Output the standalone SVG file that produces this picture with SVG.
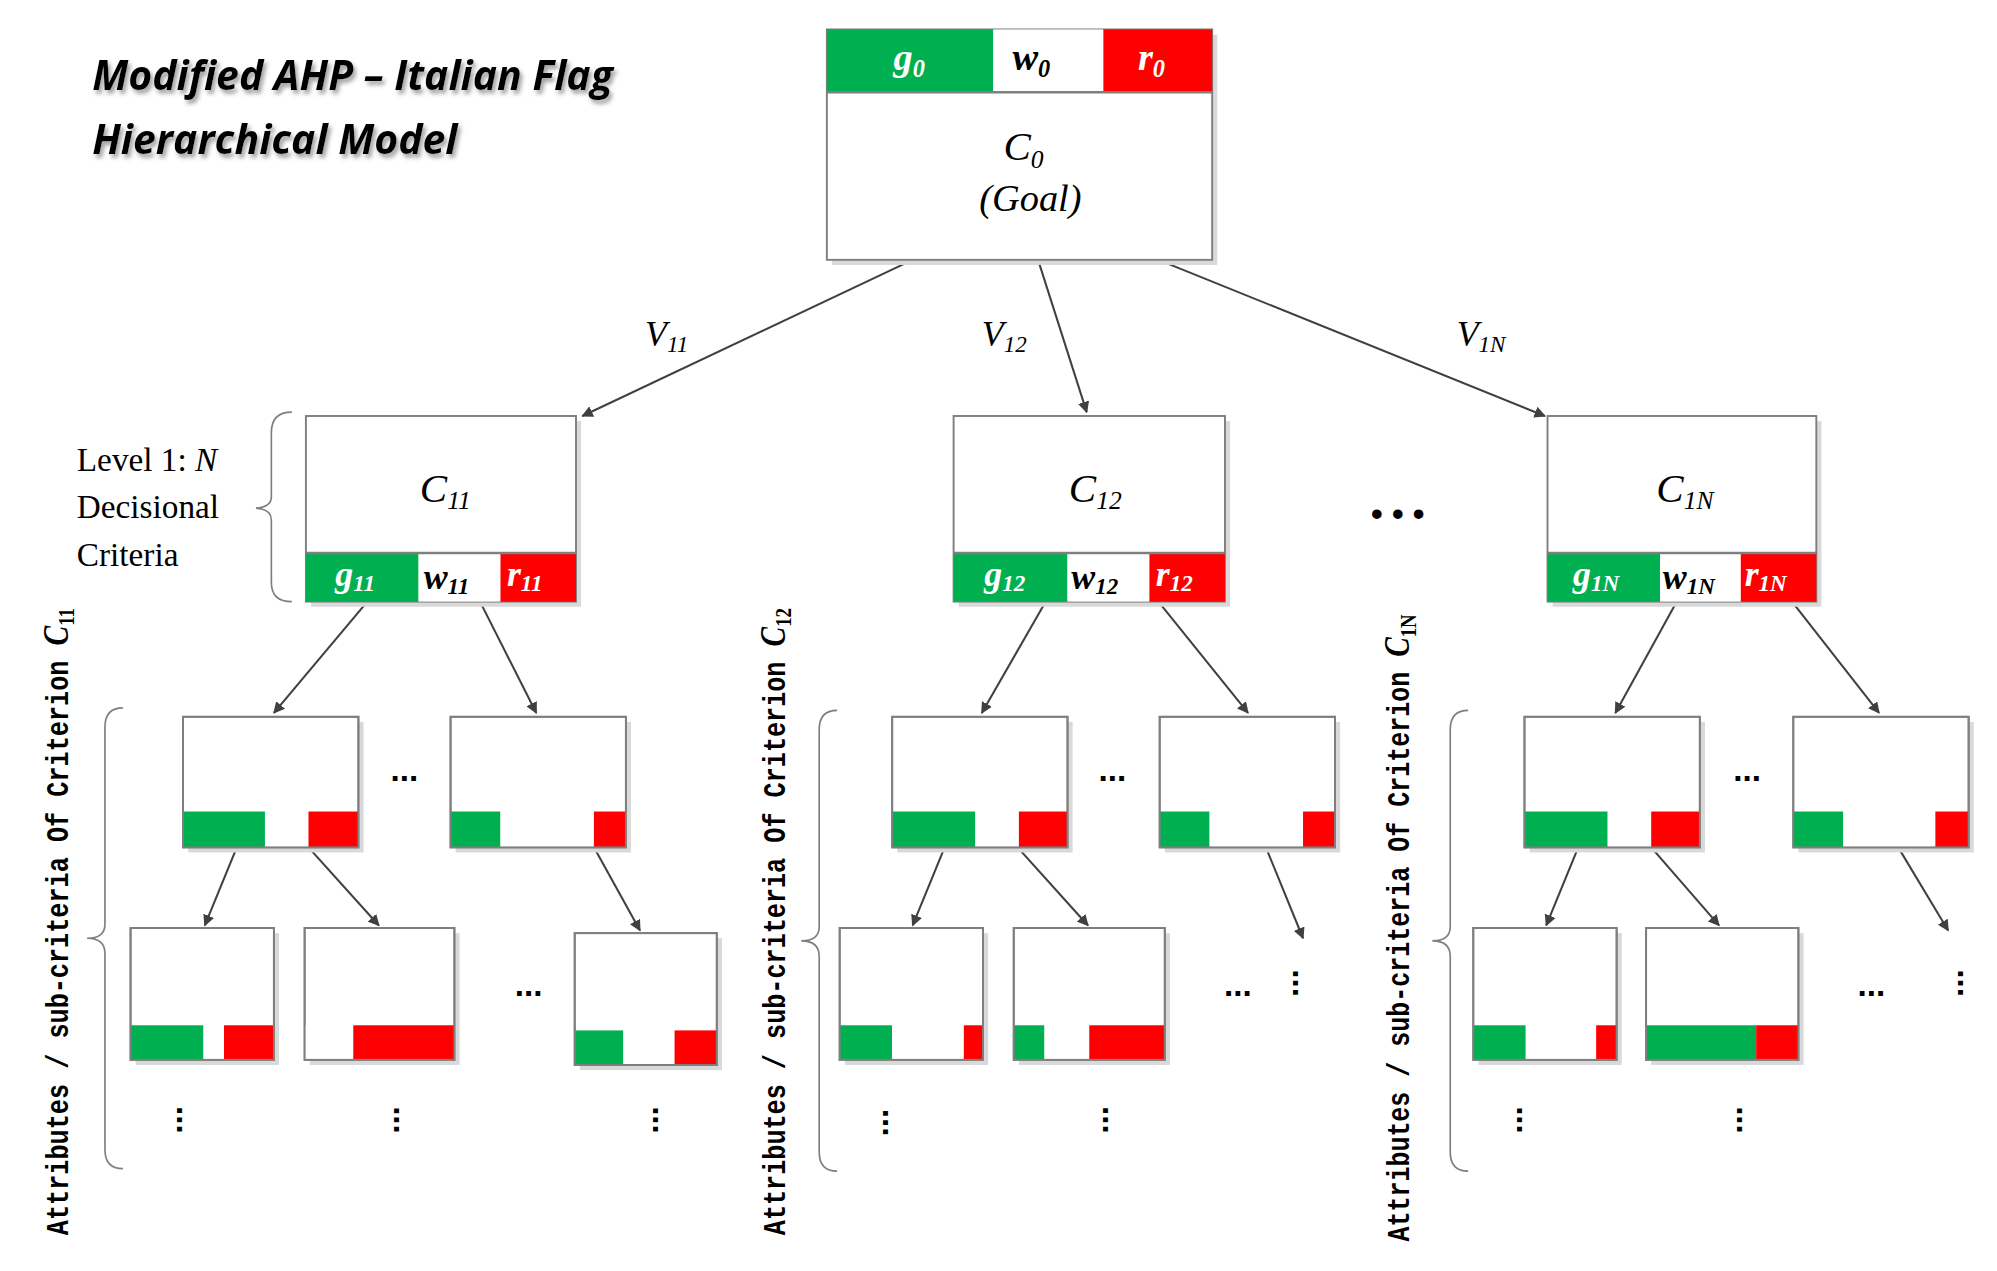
<svg xmlns="http://www.w3.org/2000/svg" width="1997" height="1271" viewBox="0 0 1997 1271">
<style>
.box{fill:#fff;stroke:#7f7f7f;stroke-width:1.5}
.ol{fill:none;stroke:#7f7f7f;stroke-width:1.5}
.sh{fill:#d9d9d9}
.g{fill:#00b050}.r{fill:#ff0000}.w{fill:#fff}
.ln{stroke:#404040;stroke-width:1.6;fill:none}
.m{font-family:"Liberation Serif",serif;font-style:italic;fill:#000}
.mw{font-family:"Liberation Serif",serif;font-style:italic;font-weight:bold;fill:#fff}
.mb{font-family:"Liberation Serif",serif;font-style:italic;font-weight:bold;fill:#000}
.t{font-family:"Liberation Serif",serif;font-size:26px;fill:#000}
.rot{font-family:"Liberation Mono",monospace;font-size:24px;font-weight:bold;fill:#000}
.dots{font-family:"Liberation Sans",sans-serif;font-size:26px;font-weight:bold;fill:#000}
.br{stroke:#7f7f7f;stroke-width:1.3;fill:none}
</style>
<defs>
<marker id="a" viewBox="0 0 10 10" refX="9" refY="5" markerWidth="9" markerHeight="9" orient="auto-start-reverse" markerUnits="userSpaceOnUse"><path d="M0,0L10,5L0,10z" fill="#404040"/></marker>
<filter id="ds" x="-5%" y="-20%" width="110%" height="140%"><feDropShadow dx="2" dy="3" stdDeviation="1.5" flood-color="#888" flood-opacity="0.8"/></filter>
</defs>
<rect width="1997" height="1271" fill="#fff"/>
<g transform="scale(1.28)">
<g id="title" font-family="'Open Sans','Liberation Sans',sans-serif" font-weight="bold" font-style="italic" font-size="32" filter="url(#ds)">
<text x="72" y="70">Modified AHP – Italian Flag</text>
<text x="72" y="120">Hierarchical Model</text>
</g>

<g id="connectors">
<line class="ln" x1="713" y1="203" x2="455" y2="325" marker-end="url(#a)"/>
<line class="ln" x1="811" y1="203" x2="849" y2="322" marker-end="url(#a)"/>
<line class="ln" x1="905" y1="203" x2="1207" y2="325" marker-end="url(#a)"/>
<line class="ln" x1="287" y1="470" x2="214" y2="557" marker-end="url(#a)"/>
<line class="ln" x1="375" y1="470" x2="419" y2="557" marker-end="url(#a)"/>
<line class="ln" x1="185" y1="662" x2="160" y2="723" marker-end="url(#a)"/>
<line class="ln" x1="241" y1="662" x2="296" y2="723" marker-end="url(#a)"/>
<line class="ln" x1="464" y1="662" x2="500" y2="727" marker-end="url(#a)"/>
<line class="ln" x1="817" y1="470" x2="767" y2="557" marker-end="url(#a)"/>
<line class="ln" x1="905" y1="470" x2="975" y2="557" marker-end="url(#a)"/>
<line class="ln" x1="738" y1="662" x2="713" y2="723" marker-end="url(#a)"/>
<line class="ln" x1="795" y1="662" x2="850" y2="723" marker-end="url(#a)"/>
<line class="ln" x1="989" y1="662" x2="1018" y2="733" marker-end="url(#a)"/>
<line class="ln" x1="1310" y1="470" x2="1262" y2="557" marker-end="url(#a)"/>
<line class="ln" x1="1400" y1="470" x2="1468" y2="557" marker-end="url(#a)"/>
<line class="ln" x1="1233" y1="662" x2="1208" y2="723" marker-end="url(#a)"/>
<line class="ln" x1="1290" y1="662" x2="1343" y2="723" marker-end="url(#a)"/>
<line class="ln" x1="1483" y1="662" x2="1522" y2="727" marker-end="url(#a)"/>
<text class="m" font-size="28" x="504" y="270">V<tspan font-size="18" dy="5">11</tspan></text>
<text class="m" font-size="28" x="767" y="270">V<tspan font-size="18" dy="5">12</tspan></text>
<text class="m" font-size="28" x="1138" y="270">V<tspan font-size="18" dy="5">1N</tspan></text>
</g>

<g id="goal">
<rect class="sh" x="650" y="27" width="301" height="180"/>
<rect class="box" x="646" y="23" width="301" height="180"/>
<rect class="g" x="646" y="23" width="130" height="49"/><rect class="w" x="776" y="23" width="86" height="49"/><rect class="r" x="862" y="23" width="85" height="49"/>
<line x1="646" y1="72" x2="947" y2="72" stroke="#7f7f7f" stroke-width="2"/>
<text class="mw" font-size="30" x="698" y="55">g<tspan font-size="19" dy="5">0</tspan></text>
<text class="mb" font-size="30" x="791" y="55">w<tspan font-size="19" dy="5">0</tspan></text>
<text class="mw" font-size="30" x="889" y="55">r<tspan font-size="19" dy="5">0</tspan></text>
<text class="m" font-size="32" x="784" y="125">C<tspan font-size="20" dy="6">0</tspan></text>
<text class="m" font-size="30" x="805" y="165" text-anchor="middle">(Goal)</text>
</g>

<g id="c11">
<rect class="sh" x="243" y="329" width="211" height="145"/>
<rect class="box" x="239" y="325" width="211" height="145"/>
<rect class="g" x="239" y="432" width="88" height="38"/><rect class="w" x="327" y="432" width="64" height="38"/><rect class="r" x="391" y="432" width="59" height="38"/>
<line x1="239" y1="432" x2="450" y2="432" stroke="#7f7f7f" stroke-width="2"/>
<text class="mw" font-size="28" x="262" y="458">g<tspan font-size="18" dy="4">11</tspan></text>
<text class="mb" font-size="28" x="331" y="460">w<tspan font-size="18" dy="4">11</tspan></text>
<text class="mw" font-size="28" x="396" y="458">r<tspan font-size="18" dy="4">11</tspan></text>
<text class="m" font-size="32" x="328" y="392">C<tspan font-size="20" dy="6">11</tspan></text>
</g>
<g id="c12">
<rect class="sh" x="749" y="329" width="212" height="145"/>
<rect class="box" x="745" y="325" width="212" height="145"/>
<rect class="g" x="745" y="432" width="89" height="38"/><rect class="w" x="834" y="432" width="64" height="38"/><rect class="r" x="898" y="432" width="59" height="38"/>
<line x1="745" y1="432" x2="957" y2="432" stroke="#7f7f7f" stroke-width="2"/>
<text class="mw" font-size="28" x="769" y="458">g<tspan font-size="18" dy="4">12</tspan></text>
<text class="mb" font-size="28" x="837" y="460">w<tspan font-size="18" dy="4">12</tspan></text>
<text class="mw" font-size="28" x="903" y="458">r<tspan font-size="18" dy="4">12</tspan></text>
<text class="m" font-size="32" x="835" y="392">C<tspan font-size="20" dy="6">12</tspan></text>
</g>
<g id="c1n">
<rect class="sh" x="1213" y="329" width="210" height="145"/>
<rect class="box" x="1209" y="325" width="210" height="145"/>
<rect class="g" x="1209" y="432" width="88" height="38"/><rect class="w" x="1297" y="432" width="63" height="38"/><rect class="r" x="1360" y="432" width="59" height="38"/>
<line x1="1209" y1="432" x2="1419" y2="432" stroke="#7f7f7f" stroke-width="2"/>
<text class="mw" font-size="28" x="1229" y="458">g<tspan font-size="18" dy="4">1N</tspan></text>
<text class="mb" font-size="28" x="1299" y="460">w<tspan font-size="18" dy="4">1N</tspan></text>
<text class="mw" font-size="28" x="1363" y="458">r<tspan font-size="18" dy="4">1N</tspan></text>
<text class="m" font-size="32" x="1294" y="392">C<tspan font-size="20" dy="6">1N</tspan></text>
</g>
<text class="dots" x="1092" y="410" text-anchor="middle" font-size="34">• • •</text>

<g id="level1-label">
<text class="t" x="60" y="368">Level 1: <tspan font-style="italic">N</tspan></text>
<text class="t" x="60" y="405">Decisional</text>
<text class="t" x="60" y="442">Criteria</text>
<path class="br" d="M228,322 Q212,322 212,338 L212,388 Q212,396 200,397 Q212,398 212,406 L212,455 Q212,470 228,470"/>
</g>

<g id="n111"><rect class="sh" x="147" y="564" width="137" height="102"/><rect class="box" x="143" y="560" width="137" height="102"/><rect class="g" x="143" y="634" width="64" height="28"/><rect class="w" x="207" y="634" width="34" height="28"/><rect class="r" x="241" y="634" width="39" height="28"/><rect class="ol" x="143" y="560" width="137" height="102"/></g>
<g id="n112"><rect class="sh" x="356" y="564" width="137" height="102"/><rect class="box" x="352" y="560" width="137" height="102"/><rect class="g" x="352" y="634" width="39" height="28"/><rect class="w" x="391" y="634" width="73" height="28"/><rect class="r" x="464" y="634" width="25" height="28"/><rect class="ol" x="352" y="560" width="137" height="102"/></g>
<g id="n1111"><rect class="sh" x="106" y="729" width="112" height="103"/><rect class="box" x="102" y="725" width="112" height="103"/><rect class="g" x="102" y="801" width="57" height="27"/><rect class="w" x="159" y="801" width="16" height="27"/><rect class="r" x="175" y="801" width="39" height="27"/><rect class="ol" x="102" y="725" width="112" height="103"/></g>
<g id="n1112"><rect class="sh" x="242" y="729" width="117" height="103"/><rect class="box" x="238" y="725" width="117" height="103"/><rect class="w" x="238" y="801" width="38" height="27"/><rect class="r" x="276" y="801" width="79" height="27"/><rect class="ol" x="238" y="725" width="117" height="103"/></g>
<g id="n1121"><rect class="sh" x="453" y="733" width="111" height="103"/><rect class="box" x="449" y="729" width="111" height="103"/><rect class="g" x="449" y="805" width="38" height="27"/><rect class="w" x="487" y="805" width="40" height="27"/><rect class="r" x="527" y="805" width="33" height="27"/><rect class="ol" x="449" y="729" width="111" height="103"/></g>
<text class="dots" x="316" y="610" text-anchor="middle">...</text>
<text class="dots" x="413" y="778" text-anchor="middle">...</text>
<text class="dots" x="146" y="883" text-anchor="middle" transform="rotate(90 146 875)">...</text>
<text class="dots" x="316" y="883" text-anchor="middle" transform="rotate(90 316 875)">...</text>
<text class="dots" x="518" y="883" text-anchor="middle" transform="rotate(90 518 875)">...</text>
<path class="br" d="M96,553 Q82,553 82,568 L82,722 Q82,733 68,733 Q82,733 82,745 L82,898 Q82,913 96,913"/>
<text class="rot" transform="translate(53,720) rotate(-90)" text-anchor="middle" textLength="490" lengthAdjust="spacingAndGlyphs">Attributes / sub-criteria Of Criterion <tspan font-family="Liberation Serif,serif" font-style="italic" font-size="28">C</tspan><tspan font-family="Liberation Serif,serif" font-size="18" dy="5">11</tspan></text>

<g id="n121"><rect class="sh" x="701" y="564" width="137" height="102"/><rect class="box" x="697" y="560" width="137" height="102"/><rect class="g" x="697" y="634" width="65" height="28"/><rect class="w" x="762" y="634" width="34" height="28"/><rect class="r" x="796" y="634" width="38" height="28"/><rect class="ol" x="697" y="560" width="137" height="102"/></g>
<g id="n122"><rect class="sh" x="910" y="564" width="137" height="102"/><rect class="box" x="906" y="560" width="137" height="102"/><rect class="g" x="906" y="634" width="39" height="28"/><rect class="w" x="945" y="634" width="73" height="28"/><rect class="r" x="1018" y="634" width="25" height="28"/><rect class="ol" x="906" y="560" width="137" height="102"/></g>
<g id="n1211"><rect class="sh" x="660" y="729" width="112" height="103"/><rect class="box" x="656" y="725" width="112" height="103"/><rect class="g" x="656" y="801" width="41" height="27"/><rect class="w" x="697" y="801" width="56" height="27"/><rect class="r" x="753" y="801" width="15" height="27"/><rect class="ol" x="656" y="725" width="112" height="103"/></g>
<g id="n1212"><rect class="sh" x="796" y="729" width="118" height="103"/><rect class="box" x="792" y="725" width="118" height="103"/><rect class="g" x="792" y="801" width="24" height="27"/><rect class="w" x="816" y="801" width="35" height="27"/><rect class="r" x="851" y="801" width="59" height="27"/><rect class="ol" x="792" y="725" width="118" height="103"/></g>
<text class="dots" x="869" y="610" text-anchor="middle">...</text>
<text class="dots" x="967" y="778" text-anchor="middle">...</text>
<text class="dots" x="1018" y="776" text-anchor="middle" transform="rotate(90 1018 768)">...</text>
<text class="dots" x="698" y="885" text-anchor="middle" transform="rotate(90 698 877)">...</text>
<text class="dots" x="870" y="883" text-anchor="middle" transform="rotate(90 870 875)">...</text>
<path class="br" d="M654,555 Q640,555 640,570 L640,724 Q640,735 626,735 Q640,735 640,747 L640,900 Q640,915 654,915"/>
<text class="rot" transform="translate(613,720) rotate(-90)" text-anchor="middle" textLength="490" lengthAdjust="spacingAndGlyphs">Attributes / sub-criteria Of Criterion <tspan font-family="Liberation Serif,serif" font-style="italic" font-size="28">C</tspan><tspan font-family="Liberation Serif,serif" font-size="18" dy="5">12</tspan></text>

<g id="n1n1"><rect class="sh" x="1195" y="564" width="137" height="102"/><rect class="box" x="1191" y="560" width="137" height="102"/><rect class="g" x="1191" y="634" width="65" height="28"/><rect class="w" x="1256" y="634" width="34" height="28"/><rect class="r" x="1290" y="634" width="38" height="28"/><rect class="ol" x="1191" y="560" width="137" height="102"/></g>
<g id="n1n2"><rect class="sh" x="1405" y="564" width="137" height="102"/><rect class="box" x="1401" y="560" width="137" height="102"/><rect class="g" x="1401" y="634" width="39" height="28"/><rect class="w" x="1440" y="634" width="72" height="28"/><rect class="r" x="1512" y="634" width="26" height="28"/><rect class="ol" x="1401" y="560" width="137" height="102"/></g>
<g id="n1n11"><rect class="sh" x="1155" y="729" width="112" height="103"/><rect class="box" x="1151" y="725" width="112" height="103"/><rect class="g" x="1151" y="801" width="41" height="27"/><rect class="w" x="1192" y="801" width="55" height="27"/><rect class="r" x="1247" y="801" width="16" height="27"/><rect class="ol" x="1151" y="725" width="112" height="103"/></g>
<g id="n1n12"><rect class="sh" x="1290" y="729" width="119" height="103"/><rect class="box" x="1286" y="725" width="119" height="103"/><rect class="g" x="1286" y="801" width="86" height="27"/><rect class="r" x="1372" y="801" width="33" height="27"/><rect class="ol" x="1286" y="725" width="119" height="103"/></g>
<text class="dots" x="1365" y="610" text-anchor="middle">...</text>
<text class="dots" x="1462" y="778" text-anchor="middle">...</text>
<text class="dots" x="1538" y="776" text-anchor="middle" transform="rotate(90 1538 768)">...</text>
<text class="dots" x="1193" y="883" text-anchor="middle" transform="rotate(90 1193 875)">...</text>
<text class="dots" x="1365" y="883" text-anchor="middle" transform="rotate(90 1365 875)">...</text>
<path class="br" d="M1147,555 Q1133,555 1133,570 L1133,724 Q1133,735 1119,735 Q1133,735 1133,747 L1133,900 Q1133,915 1147,915"/>
<text class="rot" transform="translate(1101,725) rotate(-90)" text-anchor="middle" textLength="490" lengthAdjust="spacingAndGlyphs">Attributes / sub-criteria Of Criterion <tspan font-family="Liberation Serif,serif" font-style="italic" font-size="28">C</tspan><tspan font-family="Liberation Serif,serif" font-size="18" dy="5">1N</tspan></text>
</g>
</svg>
